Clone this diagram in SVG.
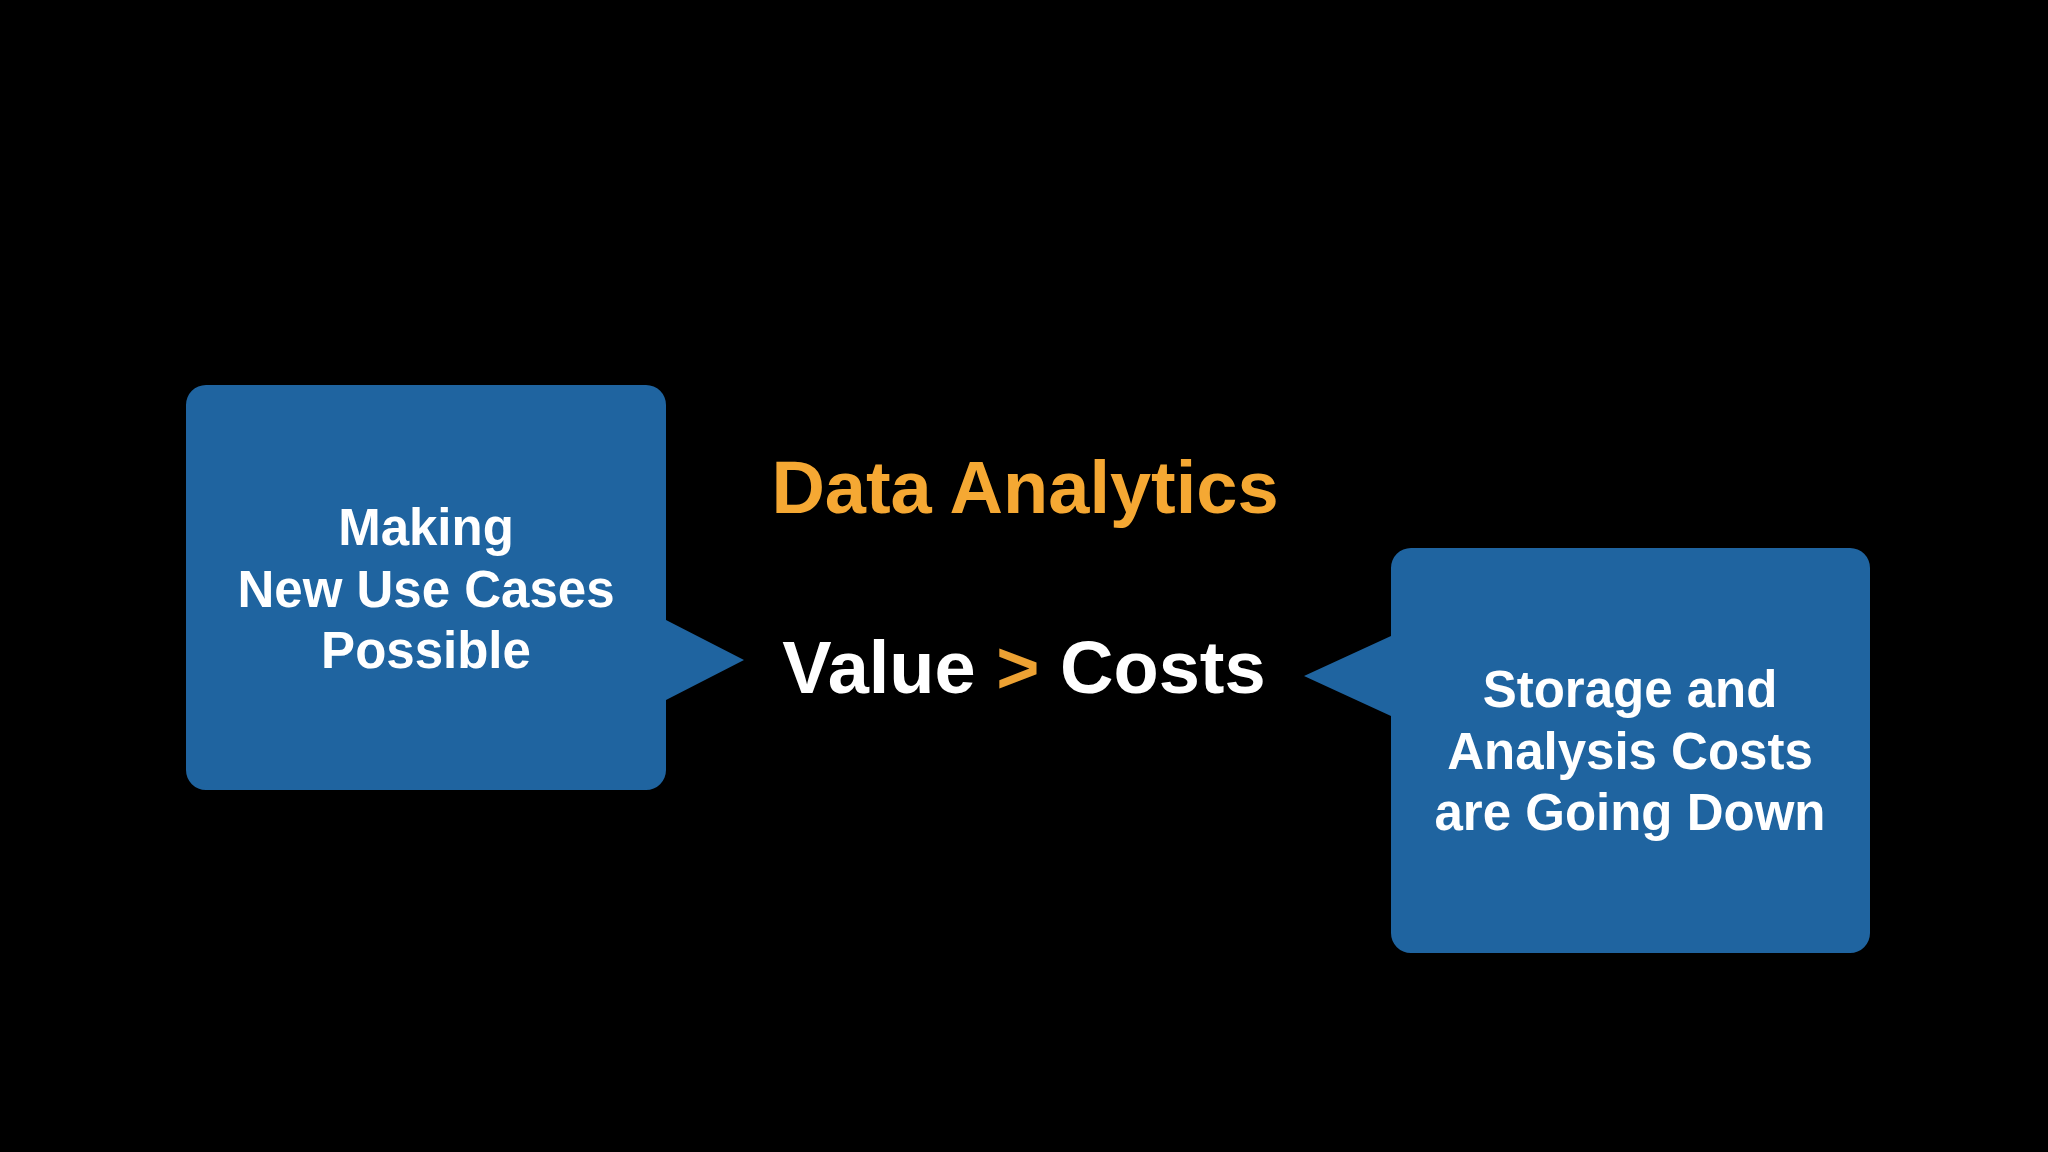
<svg xmlns="http://www.w3.org/2000/svg" width="2048" height="1152" viewBox="0 0 2048 1152">
  <style>
    .box { fill: #1F64A0; }
    .bt { font-family: "Liberation Sans", Arial, sans-serif; font-weight: bold; font-size: 51px; fill: #FFFFFF; text-anchor: middle; }
    .title { font-family: "Liberation Sans", Arial, sans-serif; font-weight: bold; font-size: 74px; fill: #F5A833; text-anchor: middle; }
    .main { font-family: "Liberation Sans", Arial, sans-serif; font-weight: bold; font-size: 74px; fill: #FFFFFF; text-anchor: middle; }
    .gt { fill: #EDA233; }
  </style>
  <rect x="0" y="0" width="2048" height="1152" fill="#000000"/>
  <g id="left-callout">
    <path class="box" d="M206,385 H646 A20,20 0 0 1 666,405 V620 L744,660 L666,700 V770 A20,20 0 0 1 646,790 H206 A20,20 0 0 1 186,770 V405 A20,20 0 0 1 206,385 Z"/>
    <text class="bt" x="426" y="545">Making</text>
    <text class="bt" x="426" y="607">New Use Cases</text>
    <text class="bt" x="426" y="668">Possible</text>
  </g>
  <g id="right-callout">
    <path class="box" d="M1411,548 H1850 A20,20 0 0 1 1870,568 V933 A20,20 0 0 1 1850,953 H1411 A20,20 0 0 1 1391,933 V716 L1304,676 L1391,636 V568 A20,20 0 0 1 1411,548 Z"/>
    <text class="bt" x="1630" y="707">Storage and</text>
    <text class="bt" x="1630" y="769">Analysis Costs</text>
    <text class="bt" x="1630" y="830">are Going Down</text>
  </g>
  <g id="title">
    <text class="title" x="1025" y="513">Data Analytics</text>
  </g>
  <g id="equation">
    <text class="main" x="1024" y="693">Value <tspan class="gt">&gt;</tspan> Costs</text>
  </g>
  <g id="connectors"></g>
</svg>
